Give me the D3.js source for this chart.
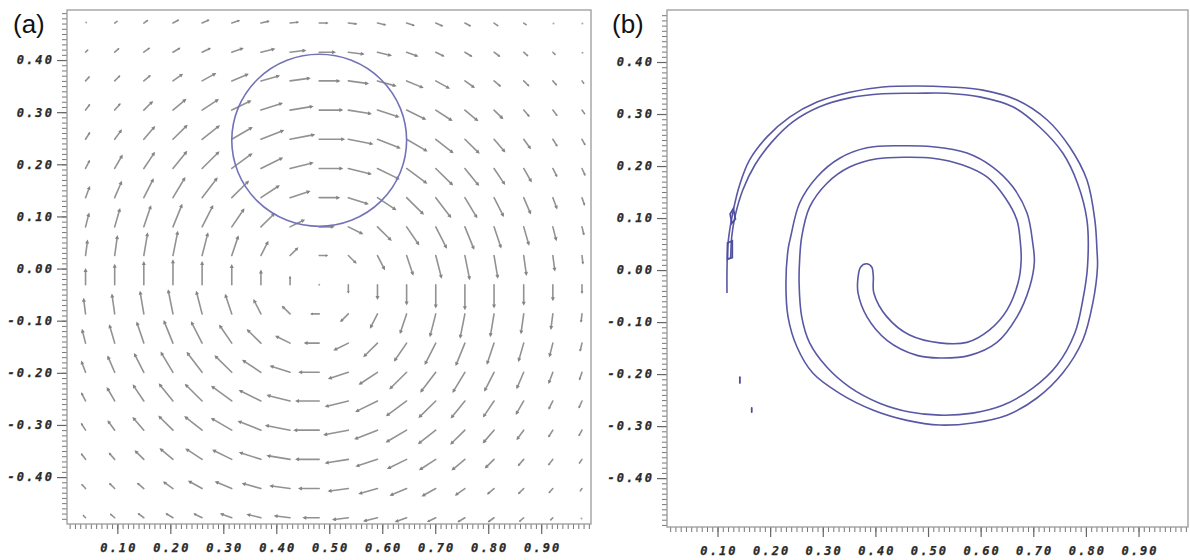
<!DOCTYPE html>
<html>
<head>
<meta charset="utf-8">
<script src="https://cdn.jsdelivr.net/npm/d3@7"></script>
<style>
  body { margin: 0; background: #fff; }
  .ticklab { font-family: "DejaVu Sans Mono", monospace; font-weight: bold; font-style: italic; font-size: 12px; letter-spacing: 2.1px; fill: #2a2a2a; stroke: #2a2a2a; stroke-width: 0.25px; }
  .panel-label { font-family: "Liberation Sans", Arial, sans-serif; font-size: 26px; fill: #111; }
</style>
</head>
<body>
<svg id="chart" width="1190" height="560"></svg>
<script>
/////////////////////////////// DATA ///////////////////////////////
const xMajorTicks = [0.1, 0.2, 0.3, 0.4, 0.5, 0.6, 0.7, 0.8, 0.9];
const yMajorTicks = [-0.4, -0.3, -0.2, -0.1, 0.0, 0.1, 0.2, 0.3, 0.4];

// grid of the velocity field (a)
const gridX = [0.040, 0.095, 0.150, 0.205, 0.260, 0.316, 0.371, 0.426, 0.481,
               0.536, 0.591, 0.646, 0.701, 0.756, 0.811, 0.867, 0.922, 0.977];
const gridY = [0.471, 0.415, 0.360, 0.304, 0.248, 0.192, 0.136, 0.080, 0.025,
               -0.031, -0.087, -0.143, -0.199, -0.254, -0.310, -0.366, -0.422, -0.478];

// horizontal velocity, one row per gridY
const velU = [
  [.05,.11,.17,.24,.29,.32,.34,.35,.36,.35,.34,.32,.29,.24,.17,.11,.05,.03],
  [.10,.18,.24,.29,.34,.46,.56,.63,.65,.63,.56,.46,.34,.29,.24,.18,.10,.04],
  [.16,.22,.27,.39,.55,.66,.74,.80,.82,.80,.74,.66,.55,.39,.27,.22,.16,.08],
  [.18,.23,.36,.52,.65,.76,.85,.91,.93,.91,.85,.76,.65,.52,.36,.23,.18,.12],
  [.18,.28,.44,.57,.69,.81,.90,.97,1.00,.97,.90,.81,.69,.57,.44,.28,.18,.13],
  [.17,.31,.43,.55,.67,.80,.86,.91,.93,.91,.86,.80,.67,.55,.43,.31,.17,.13],
  [.17,.28,.38,.48,.60,.67,.73,.79,.81,.79,.73,.67,.60,.48,.38,.28,.17,.11],
  [.14,.21,.28,.36,.43,.49,.55,.58,.60,.58,.55,.49,.43,.36,.28,.21,.14,.08],
  [.08,.11,.15,.19,.23,.26,.29,.32,.35,.32,.29,.26,.23,.19,.15,.11,.08,.04],
  [0,0,0,0,0,0,0,0,0,0,0,0,0,0,0,0,0,0],
  [-.08,-.11,-.15,-.19,-.23,-.26,-.29,-.32,-.35,-.32,-.29,-.26,-.23,-.19,-.15,-.11,-.08,-.04],
  [-.14,-.21,-.28,-.36,-.43,-.49,-.55,-.58,-.60,-.58,-.55,-.49,-.43,-.36,-.28,-.21,-.14,-.08],
  [-.17,-.28,-.38,-.48,-.60,-.67,-.73,-.79,-.81,-.79,-.73,-.67,-.60,-.48,-.38,-.28,-.17,-.11],
  [-.17,-.31,-.43,-.55,-.67,-.80,-.86,-.91,-.93,-.91,-.86,-.80,-.67,-.55,-.43,-.31,-.17,-.13],
  [-.18,-.28,-.44,-.57,-.69,-.81,-.90,-.97,-1.00,-.97,-.90,-.81,-.69,-.57,-.44,-.28,-.18,-.13],
  [-.18,-.23,-.36,-.52,-.65,-.76,-.85,-.91,-.93,-.91,-.85,-.76,-.65,-.52,-.36,-.23,-.18,-.12],
  [-.16,-.22,-.27,-.39,-.55,-.66,-.74,-.80,-.82,-.80,-.74,-.66,-.55,-.39,-.27,-.22,-.16,-.08],
  [-.10,-.18,-.24,-.29,-.34,-.46,-.56,-.63,-.65,-.63,-.56,-.46,-.34,-.29,-.24,-.18,-.10,-.04]
];
// vertical velocity, one row per gridY
const velV = [
  [.04,.08,.12,.13,.13,.11,.08,.04,0,-.04,-.08,-.11,-.13,-.13,-.12,-.08,-.04,-.03],
  [.10,.16,.18,.18,.17,.17,.14,.08,0,-.08,-.14,-.17,-.17,-.18,-.18,-.16,-.10,-.05],
  [.18,.22,.23,.28,.31,.28,.21,.11,0,-.11,-.21,-.28,-.31,-.28,-.23,-.22,-.18,-.11],
  [.24,.27,.36,.44,.43,.38,.28,.15,0,-.15,-.28,-.38,-.43,-.44,-.36,-.27,-.24,-.17],
  [.29,.39,.52,.57,.55,.48,.36,.19,0,-.19,-.36,-.48,-.55,-.57,-.52,-.39,-.29,-.24],
  [.34,.55,.65,.69,.67,.60,.43,.23,0,-.23,-.43,-.60,-.67,-.69,-.65,-.55,-.34,-.29],
  [.46,.66,.76,.81,.80,.67,.49,.26,0,-.26,-.49,-.67,-.80,-.81,-.76,-.66,-.46,-.32],
  [.56,.74,.85,.90,.86,.73,.55,.29,0,-.29,-.55,-.73,-.86,-.90,-.85,-.74,-.56,-.34],
  [.63,.80,.91,.97,.91,.79,.58,.32,0,-.32,-.58,-.79,-.91,-.97,-.91,-.80,-.63,-.35],
  [.65,.82,.93,1.00,.93,.81,.60,.35,0,-.35,-.60,-.81,-.93,-1.00,-.93,-.82,-.65,-.36],
  [.63,.80,.91,.97,.91,.79,.58,.32,0,-.32,-.58,-.79,-.91,-.97,-.91,-.80,-.63,-.35],
  [.56,.74,.85,.90,.86,.73,.55,.29,0,-.29,-.55,-.73,-.86,-.90,-.85,-.74,-.56,-.34],
  [.46,.66,.76,.81,.80,.67,.49,.26,0,-.26,-.49,-.67,-.80,-.81,-.76,-.66,-.46,-.32],
  [.34,.55,.65,.69,.67,.60,.43,.23,0,-.23,-.43,-.60,-.67,-.69,-.65,-.55,-.34,-.29],
  [.29,.39,.52,.57,.55,.48,.36,.19,0,-.19,-.36,-.48,-.55,-.57,-.52,-.39,-.29,-.24],
  [.24,.27,.36,.44,.43,.38,.28,.15,0,-.15,-.28,-.38,-.43,-.44,-.36,-.27,-.24,-.17],
  [.18,.22,.23,.28,.31,.28,.21,.11,0,-.11,-.21,-.28,-.31,-.28,-.23,-.22,-.18,-.11],
  [.10,.16,.18,.18,.17,.17,.14,.08,0,-.08,-.14,-.17,-.17,-.18,-.18,-.16,-.10,-.05]
];

const circleCenter = [0.481, 0.246];
const circleRadius = 0.165;

// contour of the spiral band (b): outer edge from the tail to the cap, then the inner edge back
const spiralContour = [
  [0.118,-0.044],[0.118,0.000],[0.120,0.052],[0.129,0.110],[0.143,0.167],[0.161,0.212],
  [0.194,0.256],[0.237,0.294],[0.289,0.323],[0.351,0.342],[0.414,0.352],[0.479,0.354],
  [0.541,0.352],[0.604,0.346],[0.669,0.327],[0.726,0.289],[0.769,0.237],[0.802,0.173],
  [0.817,0.096],[0.821,0.039],[0.822,0.006],[0.813,-0.064],[0.794,-0.135],[0.756,-0.198],
  [0.707,-0.246],[0.650,-0.279],[0.585,-0.294],[0.522,-0.298],[0.460,-0.289],[0.395,-0.269],
  [0.332,-0.237],[0.281,-0.198],[0.251,-0.148],[0.234,-0.090],[0.230,-0.025],[0.234,0.039],
  [0.239,0.064],[0.256,0.129],[0.289,0.179],[0.332,0.215],[0.384,0.235],[0.446,0.239],
  [0.509,0.237],[0.574,0.225],[0.623,0.198],[0.661,0.160],[0.688,0.110],[0.699,0.052],
  [0.702,0.015],[0.693,-0.033],[0.669,-0.090],[0.631,-0.139],[0.579,-0.164],[0.522,-0.169],
  [0.479,-0.164],[0.422,-0.135],[0.384,-0.090],[0.367,-0.044],[0.367,-0.014],[0.372,0.006],
  [0.383,0.012],[0.393,0.006],[0.396,-0.012],
  [0.397,-0.044],[0.422,-0.090],[0.465,-0.125],[0.522,-0.140],[0.574,-0.139],[0.617,-0.115],
  [0.650,-0.077],[0.671,-0.025],[0.677,0.019],[0.675,0.058],[0.669,0.096],[0.646,0.140],
  [0.612,0.179],[0.566,0.202],[0.509,0.215],[0.460,0.217],[0.403,0.214],[0.351,0.198],
  [0.308,0.167],[0.275,0.121],[0.260,0.064],[0.256,0.019],[0.255,-0.025],[0.260,-0.090],
  [0.275,-0.140],[0.308,-0.187],[0.351,-0.225],[0.408,-0.256],[0.465,-0.273],[0.522,-0.279],
  [0.585,-0.275],[0.642,-0.260],[0.699,-0.227],[0.745,-0.183],[0.779,-0.121],[0.794,-0.058],
  [0.803,0.006],[0.802,0.096],[0.784,0.167],[0.756,0.225],[0.712,0.275],[0.661,0.314],
  [0.598,0.333],[0.536,0.340],[0.479,0.340],[0.414,0.339],[0.351,0.331],[0.294,0.314],
  [0.243,0.285],[0.203,0.246],[0.171,0.202],[0.148,0.154],[0.133,0.102],[0.127,0.064],
  [0.125,0.023]
];
// small isolated pieces of the contour
const spiralSpecks = [
  [[0.1425,-0.206],[0.1425,-0.217]],
  [[0.165,-0.265],[0.165,-0.273]],
  [[0.119,0.052],[0.128,0.056],[0.128,0.024],[0.119,0.021],[0.119,0.052]],
  [[0.124,0.108],[0.130,0.118],[0.134,0.098],[0.127,0.090],[0.124,0.108]]
];

/////////////////////////////// LAYOUT ///////////////////////////////
const svg = d3.select("#chart");
const arrowScale = 0.049;

const panels = [
  { label: "(a)", lx: 13, box: { left: 67, top: 10, right: 591, bottom: 524 },
    xDomain: [0.005, 0.994], yDomain: [-0.49, 0.496] },
  { label: "(b)", lx: 612, box: { left: 667, top: 10, right: 1188, bottom: 527 },
    xDomain: [0.004, 0.994], yDomain: [-0.494, 0.50] }
];

const drawPanel = (p) => {
  const x = d3.scaleLinear().domain(p.xDomain).range([p.box.left, p.box.right]);
  const y = d3.scaleLinear().domain(p.yDomain).range([p.box.bottom, p.box.top]);

  const minorX = d3.range(1, 100).map((k) => k / 100).filter((v) => v > p.xDomain[0] && v < p.xDomain[1]);
  const minorY = d3.range(-49, 50).map((k) => k / 100).filter((v) => v > p.yDomain[0] && v < p.yDomain[1]);

  // minor ticks
  svg.append("g")
    .attr("transform", `translate(0,${p.box.bottom})`)
    .call(d3.axisBottom(x).tickValues(minorX).tickSize(5).tickFormat(""))
    .call((g) => g.select(".domain").remove())
    .call((g) => g.selectAll("line").attr("stroke", "#777"));
  svg.append("g")
    .attr("transform", `translate(${p.box.left},0)`)
    .call(d3.axisLeft(y).tickValues(minorY).tickSize(5).tickFormat(""))
    .call((g) => g.select(".domain").remove())
    .call((g) => g.selectAll("line").attr("stroke", "#777"));

  // major ticks + labels
  const gx = svg.append("g")
    .attr("transform", `translate(0,${p.box.bottom})`)
    .call(d3.axisBottom(x).tickValues(xMajorTicks).tickSize(10).tickFormat((d) => d.toFixed(2)))
    .call((g) => g.select(".domain").remove());
  gx.selectAll("line").attr("stroke", "#666").attr("stroke-width", 1.2);
  gx.selectAll("text").attr("class", "ticklab").attr("y", 19).attr("dy", "0.71em").attr("dx", 1);

  const gy = svg.append("g")
    .attr("transform", `translate(${p.box.left},0)`)
    .call(d3.axisLeft(y).tickValues(yMajorTicks).tickSize(10).tickFormat((d) => d.toFixed(2)))
    .call((g) => g.select(".domain").remove());
  gy.selectAll("line").attr("stroke", "#666").attr("stroke-width", 1.2);
  gy.selectAll("text").attr("class", "ticklab").attr("x", -13);

  svg.append("rect")
    .attr("x", p.box.left).attr("y", p.box.top)
    .attr("width", p.box.right - p.box.left).attr("height", p.box.bottom - p.box.top)
    .attr("fill", "none").attr("stroke", "#9a9a9a").attr("stroke-width", 1.3);

  svg.append("text").attr("class", "panel-label")
    .attr("x", p.lx).attr("y", 33).text(p.label);

  return { x, y };
};

const sa = drawPanel(panels[0]);
const sb = drawPanel(panels[1]);

/////////////////////////////// (a) arrows ///////////////////////////////
const arrows = [];
gridY.forEach((gy, j) => {
  gridX.forEach((gx, i) => {
    arrows.push({ gx, gy, u: velU[j][i], v: velV[j][i] });
  });
});

const arrowG = svg.append("g");
arrows.forEach((a) => {
  const x0 = sa.x(a.gx), y0 = sa.y(a.gy);
  const x1 = sa.x(a.gx + a.u * arrowScale), y1 = sa.y(a.gy + a.v * arrowScale);
  const dx = x1 - x0, dy = y1 - y0;
  const len = Math.hypot(dx, dy);
  if (len < 2.2) {
    arrowG.append("circle").attr("cx", x0 + dx / 2).attr("cy", y0 + dy / 2)
      .attr("r", 1).attr("fill", "#a5a5a5");
    return;
  }
  const ux = dx / len, uy = dy / len;
  const hl = Math.min(4, len * 0.3), hw = hl * 0.5;
  arrowG.append("line")
    .attr("x1", x0).attr("y1", y0)
    .attr("x2", x1 - ux * hl * 0.6).attr("y2", y1 - uy * hl * 0.6)
    .attr("stroke", "#929292").attr("stroke-width", 1.6).attr("stroke-linecap", "round");
  const bx = x1 - ux * hl, by = y1 - uy * hl;
  arrowG.append("path")
    .attr("d", `M${x1},${y1}L${bx - uy * hw},${by + ux * hw}L${bx + uy * hw},${by - ux * hw}Z`)
    .attr("fill", "#858585");
});

svg.append("ellipse")
  .attr("cx", sa.x(circleCenter[0])).attr("cy", sa.y(circleCenter[1]))
  .attr("rx", sa.x(circleCenter[0] + circleRadius) - sa.x(circleCenter[0]))
  .attr("ry", sa.y(circleCenter[1]) - sa.y(circleCenter[1] + circleRadius))
  .attr("fill", "none").attr("stroke", "#7272b9").attr("stroke-width", 1.6);

/////////////////////////////// (b) spiral ///////////////////////////////
const spiralLine = d3.line()
  .x((d) => sb.x(d[0]))
  .y((d) => sb.y(d[1]))
  .curve(d3.curveCatmullRom.alpha(0.5));

svg.append("path")
  .attr("d", spiralLine(spiralContour))
  .attr("fill", "none").attr("stroke", "#5858a4").attr("stroke-width", 1.6);

const speckLine = d3.line().x((d) => sb.x(d[0])).y((d) => sb.y(d[1]));
svg.selectAll(".speck").data(spiralSpecks).enter()
  .append("path").attr("class", "speck")
  .attr("d", (d) => speckLine(d))
  .attr("fill", "none").attr("stroke", "#4e4e9e").attr("stroke-width", 1.8)
  .attr("stroke-linecap", "round");
</script>
</body>
</html>
